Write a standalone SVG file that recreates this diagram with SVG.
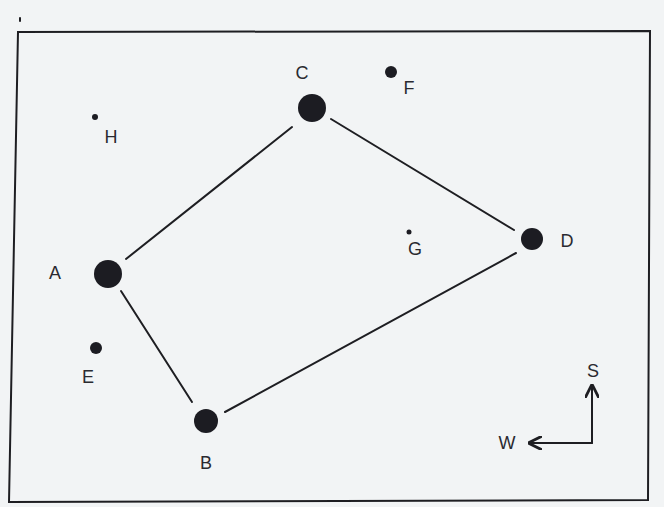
<svg xmlns="http://www.w3.org/2000/svg" width="664" height="507" viewBox="0 0 664 507">
<style>
.ln{stroke:#1e1e22;stroke-width:2;fill:none;stroke-linecap:round}
.dot{fill:#1c1c22}
.lb{font-family:"Liberation Sans",Arial,sans-serif;font-size:18px;fill:#2a2a30;text-anchor:middle}
</style>
<defs>
<marker id="ah" viewBox="0 0 10 10" refX="8" refY="5" markerWidth="7" markerHeight="7" orient="auto-start-reverse">
<path d="M0,0 L10,5 L0,10" fill="none" stroke="#1e1e22" stroke-width="2"/>
</marker>
</defs>
<rect width="664" height="507" fill="#f2f4f5"/>
<path class="ln" d="M18,32 L650,31 L648,500 L9,502 Z" stroke-width="1.8"/>
<line class="ln" x1="20" y1="18" x2="20" y2="21" stroke-width="1.5"/>
<g id="connectors">
<line class="ln" x1="292" y1="127" x2="126" y2="259"/>
<line class="ln" x1="331" y1="119" x2="514" y2="230"/>
<line class="ln" x1="516" y1="253" x2="225" y2="412"/>
<line class="ln" x1="121" y1="291" x2="192" y2="402"/>
</g>
<g id="compass">
<line class="ln" x1="592" y1="443" x2="592" y2="387" marker-end="url(#ah)"/>
<line class="ln" x1="592" y1="443" x2="531" y2="443" marker-end="url(#ah)"/>
<text class="lb" x="593" y="377">S</text>
<text class="lb" x="507" y="449">W</text>
</g>
<g id="node-C"><circle class="dot" cx="312" cy="108" r="14"/><text class="lb" x="302" y="79">C</text></g>
<g id="node-F"><circle class="dot" cx="391" cy="72" r="6"/><text class="lb" x="409" y="94">F</text></g>
<g id="node-H"><circle class="dot" cx="95" cy="117" r="3"/><text class="lb" x="111" y="143">H</text></g>
<g id="node-D"><circle class="dot" cx="532" cy="239" r="11"/><text class="lb" x="567" y="247">D</text></g>
<g id="node-G"><circle class="dot" cx="409" cy="232" r="2.5"/><text class="lb" x="415" y="255">G</text></g>
<g id="node-A"><circle class="dot" cx="108" cy="274" r="14"/><text class="lb" x="55" y="279">A</text></g>
<g id="node-E"><circle class="dot" cx="96" cy="348" r="6"/><text class="lb" x="88" y="383">E</text></g>
<g id="node-B"><circle class="dot" cx="206" cy="421" r="12"/><text class="lb" x="206" y="469">B</text></g>
</svg>
